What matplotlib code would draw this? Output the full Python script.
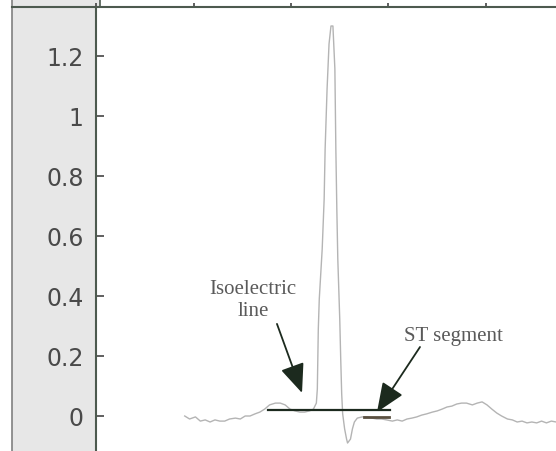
import matplotlib
matplotlib.use("Agg")
import matplotlib.pyplot as plt
from matplotlib.patches import Rectangle, FancyArrowPatch
from matplotlib.lines import Line2D

# ECG trace (sample index, amplitude)
samples = [91, 96, 102, 107, 112, 117, 122, 127, 132, 137, 143, 148, 153, 158, 163, 168,
           173, 178, 184, 189, 194, 199, 204, 209, 214, 219, 223, 226, 227, 228, 229, 232,
           234, 235, 237, 239, 241, 243, 245, 246, 247, 248, 250, 251, 252, 253, 255, 257,
           258, 261, 263, 265, 268, 273, 278, 283, 288, 293, 298, 304, 309, 314, 319, 324,
           329, 334, 339, 345, 350, 355, 360, 365, 370, 375, 380, 386, 391, 396, 401, 406,
           411, 416, 422, 427, 432, 437, 442, 447, 452, 457, 462, 467, 472]
amplitude = [0.000, -0.010, -0.003, -0.017, -0.013, -0.020, -0.013, -0.017, -0.017, -0.010,
             -0.007, -0.010, 0.000, 0.000, 0.007, 0.013, 0.023, 0.037, 0.043, 0.043, 0.037,
             0.023, 0.017, 0.013, 0.013, 0.017, 0.023, 0.043, 0.09, 0.29, 0.39, 0.557, 0.723,
             0.89, 1.09, 1.24, 1.30, 1.30, 1.157, 0.89, 0.69, 0.523, 0.323, 0.19, 0.073, 0.007,
             -0.043, -0.077, -0.09, -0.077, -0.043, -0.02, -0.007, -0.003, -0.003, -0.007,
             -0.01, -0.01, -0.013, -0.017, -0.013, -0.017, -0.01, -0.007, -0.003, 0.003, 0.007,
             0.013, 0.017, 0.023, 0.03, 0.033, 0.04, 0.043, 0.043, 0.037, 0.043, 0.047, 0.037,
             0.023, 0.01, 0.000, -0.01, -0.013, -0.02, -0.017, -0.023, -0.02, -0.023, -0.017,
             -0.023, -0.017, -0.02]

y_ticks = [0, 0.2, 0.4, 0.6, 0.8, 1, 1.2]
y_ticklabels = ["0", "0.2", "0.4", "0.6", "0.8", "1", "1.2"]
x_ticks = [0, 100, 200, 300, 400]

iso_line = ([176, 301.5], [0.02, 0.02])
iso_arrow = ((185.6, 0.307), (211.3, 0.077))
st_arrow = ((332.3, 0.23), (288.2, 0.013))
st_mark = ([275, 301], [-0.003, -0.003])

W, H = 556, 452
fig = plt.figure(figsize=(W / 100, H / 100), dpi=100)
fig.patch.set_facecolor("white")

spine_c = "#4d5a4f"

# gray label band (behind the axes)
fig.patches.append(Rectangle((12 / W, 0), (96 - 12) / W, 1 - 8 / H, transform=fig.transFigure,
                             facecolor="#e7e7e7", edgecolor="none", zorder=-10))
fig.patches.append(Rectangle((12 / W, 1 - 8 / H), (100 - 12) / W, 8 / H, transform=fig.transFigure,
                             facecolor="#e7e7e7", edgecolor="none", zorder=-10))
fig.lines.append(Line2D([12 / W, 12 / W], [0, 1], transform=fig.transFigure, color="#808080",
                        lw=1.2, zorder=-5))
fig.lines.append(Line2D([12 / W, 96 / W], [1 - 8 / H, 1 - 8 / H], transform=fig.transFigure,
                        color=spine_c, lw=1.5, zorder=-5))
fig.lines.append(Line2D([100 / W, 100 / W], [1 - 8 / H, 1], transform=fig.transFigure,
                        color=spine_c, lw=1.2, zorder=-5))

ax = fig.add_axes([96 / W, 0, (W - 96) / W, 1 - 8 / H])
ax.set_facecolor("white")
ax.plot(samples, amplitude, color="#b4b4b4", lw=1.0)

ax.set_xlim(0, 460 / 0.975)
ax.set_ylim(-35 / 300, 409 / 300)

for s in ["right", "bottom"]:
    ax.spines[s].set_visible(False)
for s in ["left", "top"]:
    ax.spines[s].set_color(spine_c)
    ax.spines[s].set_linewidth(1.5)

ax.set_yticks(y_ticks)
ax.set_yticklabels(y_ticklabels)
ax.tick_params(axis="y", direction="in", length=6, width=1.2, color="#444444",
               labelsize=17, labelcolor="#4a4a4a", pad=9)
ax.xaxis.tick_top()
ax.set_xticks(x_ticks)
ax.tick_params(axis="x", direction="out", length=3, width=1.2, color="#444444",
               labeltop=False, labelbottom=False)

dark = "#1c2a1e"
ax.plot(iso_line[0], iso_line[1], color=dark, lw=1.6)
ax.plot(st_mark[0], st_mark[1], color="#5a5040", lw=2.0)
for (p0, p1) in [iso_arrow, st_arrow]:
    ax.add_patch(FancyArrowPatch(p0, p1, arrowstyle="-|>,head_length=1.8,head_width=0.75",
                                 mutation_scale=10, color=dark, lw=1.3, shrinkA=0, shrinkB=0))

tfont = dict(family="Liberation Serif", fontsize=15, color="#5a5a5a", ha="center", va="center")
ax.text(161, (417 - 289) / 300, "Isoelectric", **tfont)
ax.text(161, (417 - 311) / 300, "line", **tfont)
ax.text(367, (417 - 337) / 300, "ST segment", **tfont)

fig.savefig("out.png", dpi=100, facecolor="white")
